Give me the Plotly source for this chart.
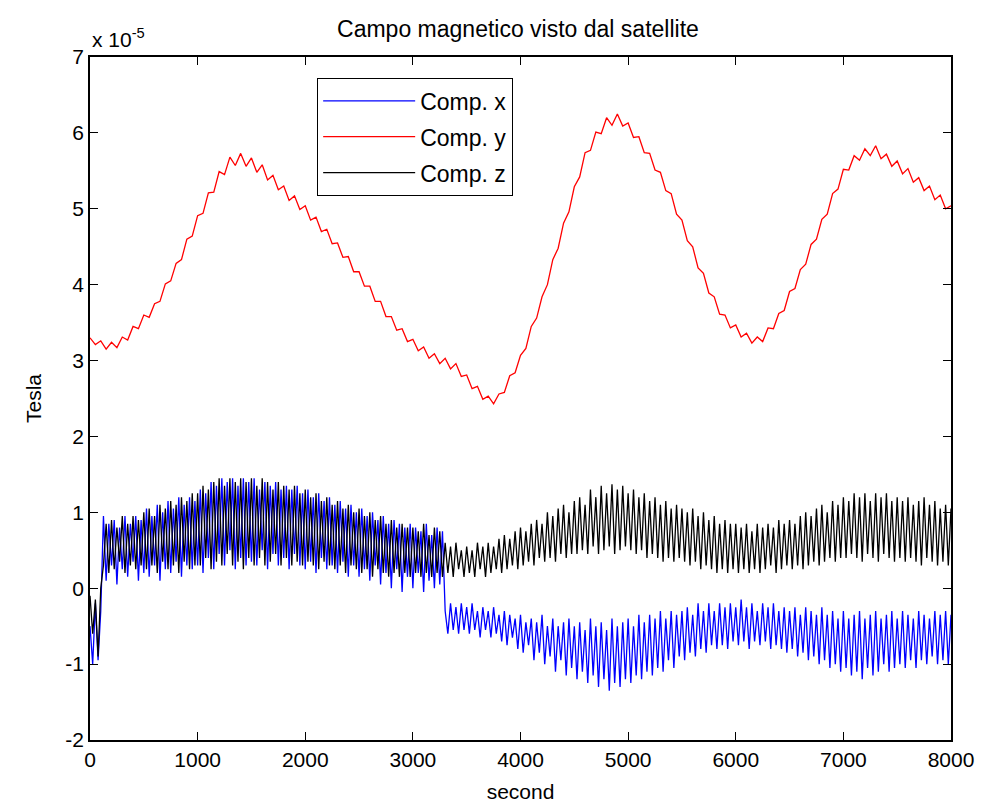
import plotly.graph_objects as go

# ---- data (values in units of 1e-5 Tesla) ----
step_xz = 25   # seconds between samples of Comp. x / Comp. z
step_y = 50    # seconds between samples of Comp. y

comp_x = [
    -0.50, -1.00, -0.20, -0.95, -0.30, 0.95, 0.10, 0.85, 0.30, 0.90, 0.05, 0.80, 0.25, 0.95, 0.15, 0.85, 0.35, 0.95, 0.10, 0.90,
    0.20, 1.05, 0.15, 0.95, 0.30, 1.10, 0.10, 1.00, 0.25, 1.15, 0.20, 1.05, 0.35, 1.20, 0.15, 1.10, 0.30, 1.20, 0.25, 1.15,
    0.30, 1.30, 0.20, 1.25, 0.40, 1.40, 0.25, 1.35, 0.45, 1.45, 0.30, 1.40, 0.50, 1.45, 0.25, 1.35, 0.40, 1.45, 0.30, 1.40,
    0.35, 1.45, 0.30, 1.30, 0.50, 1.40, 0.25, 1.35, 0.45, 1.40, 0.30, 1.30, 0.40, 1.35, 0.25, 1.30, 0.45, 1.35, 0.30, 1.25,
    0.25, 1.30, 0.35, 1.20, 0.20, 1.25, 0.40, 1.15, 0.25, 1.20, 0.30, 1.10, 0.20, 1.15, 0.35, 1.05, 0.15, 1.10, 0.30, 1.00,
    0.15, 1.05, 0.25, 0.95, 0.10, 1.00, 0.30, 0.90, 0.05, 0.95, 0.20, 0.85, 0.00, 0.90, 0.25, 0.85, -0.05, 0.80, 0.15, 0.85,
    0.00, 0.80, 0.20, 0.75, -0.05, 0.85, 0.10, 0.70, 0.00, 0.80, 0.05, 0.75, -0.30, -0.60, -0.20, -0.55, -0.25, -0.60, -0.20, -0.55,
    -0.25, -0.60, -0.20, -0.55, -0.30, -0.65, -0.25, -0.55, -0.30, -0.65, -0.25, -0.60, -0.35, -0.70, -0.30, -0.75, -0.35, -0.65, -0.40, -0.80,
    -0.35, -0.85, -0.45, -0.75, -0.40, -0.95, -0.45, -0.85, -0.35, -1.00, -0.50, -0.90, -0.40, -1.10, -0.50, -0.95, -0.45, -1.15, -0.40, -1.05,
    -0.50, -1.20, -0.45, -1.10, -0.55, -1.25, -0.40, -1.15, -0.50, -1.30, -0.45, -1.20, -0.55, -1.35, -0.40, -1.25, -0.50, -1.30, -0.45, -1.20,
    -0.40, -1.25, -0.50, -1.15, -0.35, -1.20, -0.45, -1.10, -0.35, -1.15, -0.40, -1.05, -0.30, -1.10, -0.40, -0.95, -0.30, -1.05, -0.35, -0.90,
    -0.30, -0.95, -0.25, -0.85, -0.35, -0.90, -0.20, -0.80, -0.30, -0.85, -0.20, -0.75, -0.30, -0.80, -0.20, -0.75, -0.25, -0.80, -0.20, -0.70,
    -0.25, -0.75, -0.15, -0.70, -0.25, -0.80, -0.20, -0.70, -0.30, -0.75, -0.20, -0.70, -0.25, -0.80, -0.20, -0.75, -0.30, -0.80, -0.25, -0.85,
    -0.30, -0.80, -0.25, -0.90, -0.35, -0.85, -0.25, -0.95, -0.30, -0.90, -0.35, -1.00, -0.25, -0.95, -0.35, -1.05, -0.30, -1.00, -0.40, -1.10,
    -0.30, -1.05, -0.40, -1.15, -0.35, -1.10, -0.30, -1.20, -0.40, -1.05, -0.35, -1.15, -0.30, -1.10, -0.40, -1.00, -0.35, -1.10, -0.30, -1.05,
    -0.40, -1.00, -0.30, -1.05, -0.35, -0.95, -0.40, -1.05, -0.30, -0.95, -0.35, -1.00, -0.40, -0.90, -0.30, -1.00, -0.35, -0.95, -0.30, -1.00,
    -0.35,
]

comp_z = [
    -0.10, -0.60, -0.15, -0.90, 0.00, 0.30, 0.85, 0.20, 0.90, 0.25, 0.80, 0.35, 0.95, 0.20, 0.85, 0.30, 0.95, 0.25, 0.90, 0.30,
    1.00, 0.25, 1.05, 0.30, 0.95, 0.20, 1.10, 0.35, 1.05, 0.25, 1.15, 0.30, 1.10, 0.20, 1.20, 0.35, 1.15, 0.25, 1.25, 0.30,
    1.25, 0.30, 1.35, 0.40, 1.30, 0.25, 1.40, 0.35, 1.45, 0.30, 1.35, 0.45, 1.45, 0.30, 1.40, 0.35, 1.45, 0.25, 1.40, 0.40,
    1.45, 0.30, 1.35, 0.40, 1.45, 0.30, 1.40, 0.35, 1.30, 0.45, 1.40, 0.30, 1.35, 0.40, 1.30, 0.30, 1.35, 0.35, 1.25, 0.30,
    1.30, 0.35, 1.20, 0.30, 1.25, 0.25, 1.15, 0.35, 1.20, 0.30, 1.10, 0.25, 1.15, 0.30, 1.05, 0.20, 1.10, 0.30, 1.00, 0.25,
    1.05, 0.20, 0.95, 0.25, 1.00, 0.15, 0.90, 0.25, 0.95, 0.20, 0.85, 0.15, 0.90, 0.20, 0.80, 0.15, 0.85, 0.20, 0.80, 0.15,
    0.80, 0.20, 0.75, 0.15, 0.85, 0.20, 0.70, 0.15, 0.80, 0.20, 0.75, 0.15, 0.60, 0.20, 0.55, 0.15, 0.60, 0.25, 0.50, 0.15,
    0.55, 0.20, 0.50, 0.15, 0.60, 0.25, 0.55, 0.15, 0.60, 0.20, 0.55, 0.25, 0.65, 0.20, 0.70, 0.25, 0.65, 0.30, 0.75, 0.25,
    0.80, 0.30, 0.75, 0.35, 0.85, 0.30, 0.90, 0.40, 0.85, 0.35, 1.00, 0.40, 0.95, 0.35, 1.05, 0.45, 1.10, 0.40, 1.00, 0.45,
    1.15, 0.45, 1.20, 0.50, 1.10, 0.45, 1.30, 0.55, 1.20, 0.45, 1.35, 0.50, 1.25, 0.55, 1.37, 0.45, 1.30, 0.50, 1.35, 0.55,
    1.25, 0.50, 1.30, 0.45, 1.20, 0.50, 1.25, 0.40, 1.15, 0.45, 1.20, 0.40, 1.10, 0.35, 1.15, 0.40, 1.05, 0.35, 1.10, 0.40,
    1.05, 0.35, 1.00, 0.30, 1.05, 0.35, 0.95, 0.25, 1.00, 0.30, 0.90, 0.25, 0.95, 0.20, 0.85, 0.25, 0.90, 0.20, 0.85, 0.25,
    0.85, 0.20, 0.80, 0.25, 0.85, 0.20, 0.75, 0.25, 0.85, 0.20, 0.80, 0.25, 0.85, 0.30, 0.80, 0.20, 0.90, 0.25, 0.85, 0.30,
    0.90, 0.25, 0.85, 0.30, 0.95, 0.25, 1.00, 0.30, 0.95, 0.35, 1.05, 0.30, 1.10, 0.35, 1.00, 0.40, 1.15, 0.35, 1.10, 0.40,
    1.20, 0.40, 1.15, 0.45, 1.25, 0.40, 1.20, 0.35, 1.25, 0.45, 1.15, 0.40, 1.25, 0.35, 1.20, 0.45, 1.25, 0.40, 1.15, 0.35,
    1.20, 0.40, 1.15, 0.35, 1.20, 0.40, 1.10, 0.35, 1.15, 0.30, 1.20, 0.40, 1.10, 0.35, 1.15, 0.30, 1.05, 0.35, 1.10, 0.30,
    1.05,
]

comp_y = [
    3.30, 3.21, 3.26, 3.15, 3.24, 3.17, 3.31, 3.27, 3.45, 3.42, 3.60, 3.57, 3.75, 3.78, 4.01, 4.05, 4.28, 4.33, 4.60, 4.64,
    4.91, 4.94, 5.21, 5.22, 5.49, 5.45, 5.68, 5.57, 5.73, 5.56, 5.67, 5.48, 5.58, 5.38, 5.44, 5.25, 5.30, 5.11, 5.17, 4.99,
    5.04, 4.85, 4.89, 4.70, 4.73, 4.54, 4.55, 4.36, 4.37, 4.17, 4.17, 3.98, 3.98, 3.78, 3.78, 3.58, 3.58, 3.40, 3.42, 3.25,
    3.28, 3.13, 3.18, 3.03, 3.09, 2.96, 3.03, 2.89, 2.96, 2.79, 2.81, 2.63, 2.66, 2.49, 2.53, 2.43, 2.56, 2.58, 2.80, 2.84,
    3.07, 3.16, 3.45, 3.56, 3.84, 4.00, 4.33, 4.48, 4.81, 4.96, 5.29, 5.42, 5.74, 5.77, 6.01, 5.99, 6.20, 6.10, 6.25, 6.09,
    6.13, 5.94, 5.95, 5.74, 5.73, 5.51, 5.48, 5.24, 5.20, 4.93, 4.85, 4.58, 4.50, 4.22, 4.15, 3.89, 3.84, 3.61, 3.60, 3.43,
    3.47, 3.31, 3.36, 3.23, 3.31, 3.25, 3.43, 3.42, 3.62, 3.66, 3.91, 3.95, 4.20, 4.27, 4.53, 4.60, 4.86, 4.93, 5.20, 5.26,
    5.52, 5.51, 5.70, 5.64, 5.79, 5.70, 5.83, 5.66, 5.72, 5.56, 5.63, 5.46, 5.53, 5.35, 5.41, 5.24, 5.30, 5.12, 5.18, 5.00,
    5.04,
]

x_ticks = [0, 1000, 2000, 3000, 4000, 5000, 6000, 7000, 8000]
y_ticks = [-2, -1, 0, 1, 2, 3, 4, 5, 6, 7]

t_xz = [step_xz * i for i in range(len(comp_x))]
t_z = [step_xz * i for i in range(len(comp_z))]
t_y = [step_y * i for i in range(len(comp_y))]

FONT = "Liberation Sans Narrow, Arial Narrow, Liberation Sans, Arial, sans-serif"

fig = go.Figure()
fig.add_trace(go.Scatter(x=t_xz, y=comp_x, mode="lines", name="Comp. x",
                         line=dict(color="#0000ff", width=1.3), legendgroup="a"))
fig.add_trace(go.Scatter(x=t_y, y=comp_y, mode="lines", name="Comp. y",
                         line=dict(color="#ff0000", width=1.3), legendgroup="b"))
fig.add_trace(go.Scatter(x=t_z, y=comp_z, mode="lines", name="Comp. z",
                         line=dict(color="#000000", width=1.3), legendgroup="c"))

axis_common = dict(showline=True, linecolor="black", linewidth=1.5, mirror="ticks",
                   ticks="inside", ticklen=8, tickcolor="black", tickwidth=1.2,
                   showgrid=False, zeroline=False, automargin=False,
                   tickfont=dict(family=FONT, size=21, color="black"))

fig.update_xaxes(range=[0, 8000], tickvals=x_ticks, ticktext=[str(v) for v in x_ticks],
                 title=dict(text="second", font=dict(family=FONT, size=21, color="black"), standoff=14),
                 **axis_common)
fig.update_yaxes(range=[-2, 7], tickvals=y_ticks, ticktext=[str(v) for v in y_ticks],
                 title=dict(text="Tesla", font=dict(family=FONT, size=21, color="black"), standoff=18),
                 **axis_common)

fig.update_layout(
    width=981, height=803,
    margin=dict(l=90, r=30, t=57, b=63),
    paper_bgcolor="white", plot_bgcolor="white",
    title=dict(text="Campo magnetico visto dal satellite", x=0.528, xanchor="center",
               y=0.964, yanchor="middle",
               font=dict(family=FONT, size=23, color="black")),
    legend=dict(x=0.2636, y=0.969, xanchor="left", yanchor="top",
                bgcolor="white", bordercolor="black", borderwidth=1.2,
                font=dict(family=FONT, size=23, color="black"),
                traceorder="grouped", tracegroupgap=3, itemwidth=92),
    showlegend=True,
    annotations=[dict(text="x 10<sup>-5</sup>", x=0, y=1, xref="paper", yref="paper",
                      xanchor="left", yanchor="bottom", showarrow=False, yshift=4,
                      font=dict(family=FONT, size=21, color="black"))],
)

fig.write_html("out.html")
